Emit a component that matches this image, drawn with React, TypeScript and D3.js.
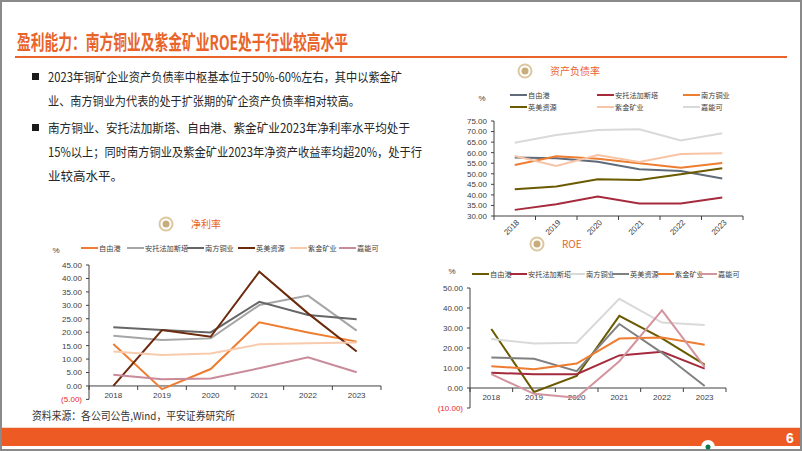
import React from "react";
import * as d3 from "d3";

const years = ["2018", "2019", "2020", "2021", "2022", "2023"];
const companies = ["自由港", "安托法加斯塔", "南方铜业", "英美资源", "紫金矿业", "嘉能可"];

// 资产负债率 (%)
const debtFreeport = [57.7, 57.3, 55.7, 52.1, 51.3, 47.8];
const debtAntofagasta = [32.9, 35.6, 39.2, 35.9, 35.9, 38.8];
const debtSouthern = [54.2, 58.3, 57.1, 55.0, 52.8, 55.1];
const debtAnglo = [42.7, 44.0, 47.4, 47.1, 49.8, 52.6];
const debtZijin = [58.4, 53.7, 58.9, 55.6, 59.4, 59.7];
const debtGlencore = [64.7, 68.4, 70.7, 71.1, 65.8, 69.2];

// 净利率 (%)
const npmFreeport = [15.6, -1.2, 6.3, 23.7, 19.9, 16.5];
const npmAntofagasta = [18.7, 17.1, 17.7, 30.1, 33.6, 20.6];
const npmSouthern = [21.8, 20.8, 19.9, 31.3, 26.4, 24.8];
const npmAnglo = [0.0, 20.8, 18.3, 42.5, 27.0, 12.8];
const npmZijin = [12.8, 11.5, 12.1, 15.5, 15.9, 16.2];
const npmGlencore = [4.2, 2.5, 2.8, 6.6, 10.7, 5.1];

// ROE (%)
const roeFreeport = [29.5, -2.0, 6.0, 36.1, 24.8, 11.7];
const roeAntofagasta = [7.6, 6.9, 6.9, 16.3, 18.1, 9.7];
const roeSouthern = [24.5, 22.3, 22.6, 44.6, 32.7, 31.5];
const roeAnglo = [15.3, 14.6, 8.4, 32.0, 17.6, 1.0];
const roeZijin = [10.9, 9.4, 12.2, 24.7, 25.3, 21.6];
const roeGlencore = [6.9, -2.9, -4.9, 13.4, 38.8, 10.6];

const debtTicks = [30, 35, 40, 45, 50, 55, 60, 65, 70, 75];
const npmTicks = [-5, 0, 5, 10, 15, 20, 25, 30, 35, 40, 45];
const roeTicks = [-10, 0, 10, 20, 30, 40, 50];

const titleText = "盈利能力：南方铜业及紫金矿业ROE处于行业较高水平";
const bulletLines = [
  "2023年铜矿企业资产负债率中枢基本位于50%-60%左右，其中以紫金矿",
  "业、南方铜业为代表的处于扩张期的矿企资产负债率相对较高。",
  "南方铜业、安托法加斯塔、自由港、紫金矿业2023年净利率水平均处于",
  "15%以上；同时南方铜业及紫金矿业2023年净资产收益率均超20%，处于行",
  "业较高水平。",
];
const sourceText = "资料来源：各公司公告,Wind，平安证券研究所";

const ORANGE = "#e8642a";
const CJK = "'Noto Sans CJK SC', 'Noto Sans', sans-serif";
const LAT = "'Liberation Sans', Arial, sans-serif";
const TICK_FS = 8;
const LEG_FS = 7.2;

type Series = { name: string; values: number[]; color: string };

type ChartCfg = {
  title: string;
  iconX: number;
  iconY: number;
  series: Series[];
  ticks: number[];
  x0: number;
  x1: number;
  yTop: number;
  yBottom: number;
  rotate: boolean;
  legend: { x: number; y: number }[];
  pct: { x: number; y: number };
};

const fmt = (v: number) => (v < 0 ? `(${Math.abs(v).toFixed(2)})` : v.toFixed(2));

function LineChart({ cfg }: { cfg: ChartCfg }) {
  const min = d3.min(cfg.ticks)!;
  const max = d3.max(cfg.ticks)!;
  const x = d3.scaleBand<string>().domain(years).range([cfg.x0, cfg.x1]);
  const y = d3.scaleLinear().domain([min, max]).range([cfg.yBottom, cfg.yTop]);
  const cx = (i: number) => (x(years[i]) as number) + x.bandwidth() / 2;
  const line = d3
    .line<number>()
    .x((_, i) => cx(i))
    .y((d) => y(d));
  const axisY = y(Math.max(min, 0));
  const bounds = [...years.map((yr) => x(yr) as number), cfg.x1];
  return (
    <g>
      <circle cx={cfg.iconX} cy={cfg.iconY} r={6.5} fill="#fff" stroke="#dcc7a0" strokeWidth={2} />
      <circle cx={cfg.iconX} cy={cfg.iconY} r={3.5} fill="#c9ac7c" />
      <text x={cfg.iconX + 25} y={cfg.iconY + 3.8} fill={ORANGE} fontSize={10} fontFamily={CJK}>
        {cfg.title}
      </text>
      <text x={cfg.pct.x} y={cfg.pct.y} fontSize={TICK_FS} fill="#404040" fontFamily={LAT} textAnchor="middle">
        %
      </text>
      {cfg.series.map((s, i) => (
        <g key={s.name}>
          <line
            x1={cfg.legend[i].x}
            x2={cfg.legend[i].x + 17}
            y1={cfg.legend[i].y}
            y2={cfg.legend[i].y}
            stroke={s.color}
            strokeWidth={2}
          />
          <text x={cfg.legend[i].x + 18} y={cfg.legend[i].y + 2.6} fontSize={LEG_FS} fill="#404040" fontFamily={CJK}>
            {s.name}
          </text>
        </g>
      ))}
      {/* y axis */}
      <line x1={cfg.x0} x2={cfg.x0} y1={y(max)} y2={y(min)} stroke="#404040" strokeWidth={1} />
      {cfg.ticks.map((t) => (
        <g key={t}>
          <line x1={cfg.x0 - 3} x2={cfg.x0} y1={y(t)} y2={y(t)} stroke="#404040" strokeWidth={1} />
          <text
            x={cfg.x0 - 7}
            y={y(t) + 2.9}
            fontSize={TICK_FS}
            textAnchor="end"
            fill={t < 0 ? "#e8262b" : "#404040"}
            fontFamily={LAT}
          >
            {fmt(t)}
          </text>
        </g>
      ))}
      {/* x axis */}
      <line x1={cfg.x0} x2={cfg.x1} y1={axisY} y2={axisY} stroke="#404040" strokeWidth={1} />
      {bounds.map((b, i) => (
        <line key={i} x1={b} x2={b} y1={axisY} y2={axisY + 4} stroke="#404040" strokeWidth={1} />
      ))}
      {years.map((yr, i) =>
        cfg.rotate ? (
          <text
            key={yr}
            transform={`translate(${cx(i) + 5},${axisY + 7}) rotate(-45)`}
            fontSize={TICK_FS}
            textAnchor="end"
            fill="#404040"
            fontFamily={LAT}
          >
            {yr}
          </text>
        ) : (
          <text key={yr} x={cx(i)} y={axisY + 12} fontSize={TICK_FS} textAnchor="middle" fill="#404040" fontFamily={LAT}>
            {yr}
          </text>
        )
      )}
      {cfg.series.map((s) => (
        <path
          key={s.name}
          d={line(s.values) || ""}
          fill="none"
          stroke={s.color}
          strokeWidth={2}
          strokeLinejoin="miter"
        />
      ))}
    </g>
  );
}

const debtCfg: ChartCfg = {
  title: "资产负债率",
  iconX: 525,
  iconY: 71,
  series: [
    { name: companies[0], values: debtFreeport, color: "#5f6b7b" },
    { name: companies[1], values: debtAntofagasta, color: "#a52a3c" },
    { name: companies[2], values: debtSouthern, color: "#ed7d31" },
    { name: companies[3], values: debtAnglo, color: "#6b5a00" },
    { name: companies[4], values: debtZijin, color: "#f8c4a6" },
    { name: companies[5], values: debtGlencore, color: "#d9d9d9" },
  ],
  ticks: debtTicks,
  x0: 494,
  x1: 743,
  yTop: 121,
  yBottom: 216,
  rotate: true,
  legend: [
    { x: 510, y: 95 },
    { x: 597, y: 95 },
    { x: 683, y: 95 },
    { x: 510, y: 107 },
    { x: 597, y: 107 },
    { x: 683, y: 107 },
  ],
  pct: { x: 482, y: 101 },
};

const npmCfg: ChartCfg = {
  title: "净利率",
  iconX: 166,
  iconY: 224,
  series: [
    { name: companies[0], values: npmFreeport, color: "#ed7d31" },
    { name: companies[1], values: npmAntofagasta, color: "#a6a6a6" },
    { name: companies[2], values: npmSouthern, color: "#666666" },
    { name: companies[3], values: npmAnglo, color: "#6b2a0c" },
    { name: companies[4], values: npmZijin, color: "#f8cbad" },
    { name: companies[5], values: npmGlencore, color: "#c98a9a" },
  ],
  ticks: npmTicks,
  x0: 89,
  x1: 381,
  yTop: 265,
  yBottom: 399.4,
  rotate: false,
  legend: [
    { x: 81, y: 248 },
    { x: 127, y: 248 },
    { x: 187, y: 248 },
    { x: 238, y: 248 },
    { x: 290, y: 248 },
    { x: 339, y: 248 },
  ],
  pct: { x: 56, y: 253 },
};

const roeCfg: ChartCfg = {
  title: "ROE",
  iconX: 537,
  iconY: 244,
  series: [
    { name: companies[0], values: roeFreeport, color: "#6b5a00" },
    { name: companies[1], values: roeAntofagasta, color: "#a52a3c" },
    { name: companies[2], values: roeSouthern, color: "#d9d9d9" },
    { name: companies[3], values: roeAnglo, color: "#808080" },
    { name: companies[4], values: roeZijin, color: "#ed7d31" },
    { name: companies[5], values: roeGlencore, color: "#d4949e" },
  ],
  ticks: roeTicks,
  x0: 470,
  x1: 726,
  yTop: 288,
  yBottom: 408,
  rotate: false,
  legend: [
    { x: 472, y: 274 },
    { x: 510, y: 274 },
    { x: 568, y: 274 },
    { x: 612, y: 274 },
    { x: 657, y: 274 },
    { x: 700, y: 274 },
  ],
  pct: { x: 452, y: 274 },
};

const bulletY = [77, 101, 128, 152, 176];
const bulletW = [354, 312, 362, 374, 0];

export default function App() {
  return (
    <div style={{ position: "absolute", left: 0, top: 0, width: 802, height: 451 }}>
      <svg width={802} height={451} style={{ display: "block", background: "#fff" }}>
        <rect x={1} y={1} width={800} height={449} fill="#fff" stroke="#8a8a8a" strokeWidth={2} />
        <text
          x={17}
          y={50}
          fontSize={20}
          fontWeight="bold"
          fill={ORANGE}
          fontFamily={CJK}
          textLength={331}
          lengthAdjust="spacingAndGlyphs"
        >
          {titleText}
        </text>
        <line x1={15} x2={787} y1={57} y2={57} stroke={ORANGE} strokeWidth={2.2} />

        {[0, 2].map((i) => (
          <rect key={i} x={32} y={bulletY[i] - 4} width={7} height={7} fill="#1a1a1a" />
        ))}
        {bulletLines.map((t, i) => (
          <text
            key={i}
            x={48}
            y={bulletY[i] + 4.5}
            fontSize={12.5}
            fill="#262626"
            fontFamily={CJK}
            {...(bulletW[i] ? { textLength: bulletW[i], lengthAdjust: "spacingAndGlyphs" } : {})}
          >
            {t}
          </text>
        ))}

        <LineChart cfg={debtCfg} />
        <LineChart cfg={npmCfg} />
        <LineChart cfg={roeCfg} />

        <text x={32} y={420} fontSize={11} fill="#333" fontFamily={CJK} textLength={203} lengthAdjust="spacingAndGlyphs">
          {sourceText}
        </text>

        <line x1={2} x2={800} y1={427.5} y2={427.5} stroke="#f6d9c4" strokeWidth={1} />
        <rect x={2} y={428} width={798} height={18} fill="#ee5a24" />
        <text x={790} y={443} fontSize={14} fontWeight="bold" fill="#fff" fontFamily={LAT} textAnchor="middle">
          6
        </text>
        <path d="M701,447 A7,7 0 0 1 715,447 Z" fill="#fff" />
        <circle cx={708} cy={447} r={2.5} fill="#0a7a4a" />
      </svg>
    </div>
  );
}
